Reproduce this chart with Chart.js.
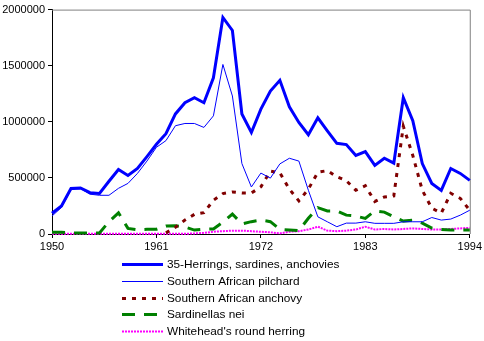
<!DOCTYPE html>
<html>
<head>
<meta charset="utf-8">
<script src="https://cdn.jsdelivr.net/npm/chart.js@4/dist/chart.umd.min.js"></script>
<style>
  html, body { margin: 0; padding: 0; background: #fff; }
  #wrap { width: 484px; height: 341px; position: relative; }
</style>
</head>
<body>
<div id="wrap"><canvas id="c" width="484" height="341"></canvas></div>
<script>
const years = [];
for (let y = 1950; y <= 1994; y++) years.push(y);

const xTickYears = [1950, 1961, 1972, 1983, 1994];
const yTickValues = [0, 500000, 1000000, 1500000, 2000000];

const seriesNames = [
  "35-Herrings, sardines, anchovies",
  "Southern African pilchard",
  "Southern African anchovy",
  "Sardinellas nei",
  "Whitehead's round herring"
];

const herringsTotal = [
  185000, 250000, 405000, 410000, 368000, 362000, 470000, 575000, 522000, 584000,
  690000, 800000, 894000, 1070000, 1170000, 1215000, 1170000, 1392000, 1930000, 1814000,
  1070000, 905000, 1113000, 1274000, 1370000, 1133000, 994000, 885000, 1035000, 920000,
  808000, 797000, 700000, 735000, 611000, 675000, 631000, 1215000, 1009000, 628000,
  451000, 389000, 584000, 540000, 478000
];

const pilchard = [
  160000, 237000, 395000, 405000, 355000, 345000, 345000, 407000, 451000, 540000,
  650000, 773000, 832000, 965000, 985000, 985000, 950000, 1053000, 1511000, 1230000,
  628000, 419000, 543000, 498000, 625000, 675000, 650000, 390000, 153000, 109000,
  65000, 97000, 97000, 109000, 95000, 95000, 95000, 109000, 109000, 109000,
  147000, 124000, 133000, 168000, 212000
];

const anchovy = [
  null, null, null, null, null, null, null, null, null, null,
  null, null, 10000, 60000, 124000, 175000, 190000, 300000, 360000, 375000,
  365000, 365000, 420000, 560000, 545000, 400000, 295000, 400000, 550000, 565000,
  510000, 475000, 390000, 430000, 290000, 330000, 340000, 960000, 700000, 389000,
  230000, 186000, 363000, 318000, 212000
];

const sardinellas = [
  15000, 15000, 10000, 10000, 10000, 10000, 110000, 189000, 50000, 38000,
  42000, 42000, 71000, 74000, 62000, 35000, 42000, 45000, 105000, 178000,
  90000, 110000, 124000, 110000, 41000, 35000, 30000, 140000, 235000, 206000,
  206000, 168000, 160000, 139000, 206000, 195000, 153000, 115000, 124000, 97000,
  53000, 41000, 35000, 35000, 35000
];

const whitehead = [
  2000, 2000, 2000, 2000, 2000, 2000, 2000, 2000, 2000, 2000,
  2000, 2000, 2000, 2000, 2000, 5000, 10000, 20000, 25000, 30000,
  30000, 25000, 20000, 15000, 5000, 20000, 25000, 40000, 65000, 30000,
  25000, 30000, 40000, 65000, 40000, 45000, 40000, 45000, 50000, 45000,
  40000, 40000, 45000, 50000, 55000
];

const FONT = { family: "'Liberation Sans', Arial, sans-serif", size: 11 };
const LEGEND_FONT_SIZE = 11.8;

function pts(arr) { return arr.map((v, i) => ({ x: years[i], y: v })); }

const borderPlugin = {
  id: 'plotBorder',
  beforeDatasetsDraw(chart) {
    const { ctx, chartArea: a } = chart;
    ctx.save();
    ctx.strokeStyle = '#808080';
    ctx.lineWidth = 1;
    ctx.beginPath();
    ctx.moveTo(a.left, a.top + 0.5);
    ctx.lineTo(a.right + 0.5, a.top + 0.5);
    ctx.lineTo(a.right + 0.5, a.bottom);
    ctx.stroke();
    ctx.restore();
  }
};

const legendPlugin = {
  id: 'vLegend',
  afterDraw(chart) {
    const ctx = chart.ctx;
    ctx.save();
    ctx.font = LEGEND_FONT_SIZE + "px " + FONT.family;
    ctx.textBaseline = 'middle';
    ctx.textAlign = 'left';
    chart.data.datasets.forEach((ds, i) => {
      const y = Math.round(264 + i * 16.8) + 0.5;
      ctx.save();
      ctx.strokeStyle = ds.borderColor;
      ctx.lineWidth = ds.borderWidth;
      ctx.setLineDash(ds.borderDash || []);
      ctx.beginPath();
      ctx.moveTo(122, y);
      ctx.lineTo(163, y);
      ctx.stroke();
      ctx.restore();
      ctx.fillStyle = '#000';
      ctx.fillText(ds.label, 167, y + 0.5);
    });
    ctx.restore();
  }
};

new Chart(document.getElementById('c'), {
  type: 'line',
  data: {
    datasets: [
      { label: seriesNames[0], data: pts(herringsTotal), borderColor: '#0000FF', borderWidth: 3 },
      { label: seriesNames[1], data: pts(pilchard), borderColor: '#0000FF', borderWidth: 1 },
      { label: seriesNames[2], data: pts(anchovy), borderColor: '#800000', borderWidth: 3, borderDash: [4, 6] },
      { label: seriesNames[3], data: pts(sardinellas), borderColor: '#008000', borderWidth: 3, borderDash: [13, 9] },
      { label: seriesNames[4], data: pts(whitehead), borderColor: '#FF00FF', borderWidth: 2, borderDash: [2, 1] }
    ].map(d => Object.assign(d, { pointRadius: 0, tension: 0, fill: false, spanGaps: false, clip: 6 }))
  },
  options: {
    responsive: false,
    animation: false,
    events: [],
    layout: { padding: { left: 0, right: 10, top: 8, bottom: 87 } },
    plugins: { legend: { display: false }, tooltip: { enabled: false } },
    scales: {
      x: {
        type: 'linear',
        min: 1950, max: 1994,
        afterBuildTicks(s) { s.ticks = xTickYears.map(v => ({ value: v })); },
        afterFit(s) { s.height = 20; },
        ticks: { font: FONT, color: '#000', padding: 2, maxRotation: 0, autoSkip: false, callback: v => String(v) },
        grid: { drawOnChartArea: false, color: '#000', tickLength: 4 },
        border: { color: '#000', width: 1 }
      },
      y: {
        min: 0, max: 2000000,
        afterBuildTicks(s) { s.ticks = yTickValues.map(v => ({ value: v })); },
        afterFit(s) { s.width = 52; },
        ticks: { font: FONT, color: '#000', padding: 3, callback: v => String(v) },
        grid: { drawOnChartArea: false, color: '#000', tickLength: 4 },
        border: { color: '#000', width: 1 }
      }
    }
  },
  plugins: [borderPlugin, legendPlugin]
});
</script>
</body>
</html>
